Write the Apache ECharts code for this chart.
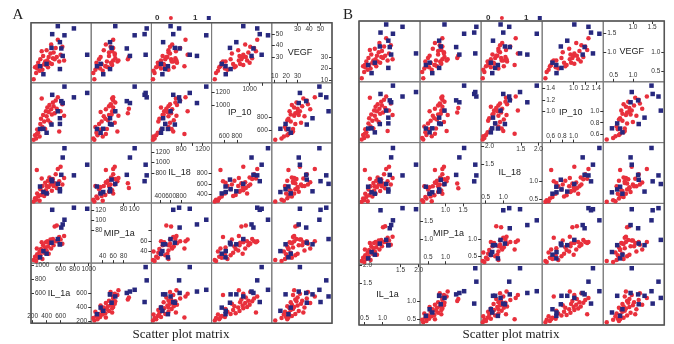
<!DOCTYPE html>
<html>
<head>
<meta charset="utf-8">
<script src="https://cdn.jsdelivr.net/npm/echarts@6/dist/echarts.min.js"></script>
<style>
    html, body { margin: 0; padding: 0; background: #fff; }
    #main { width: 674px; height: 344px; }
</style>
</head>
<body>
<div id="main"></div>
<script>
    // variables in column order (diagonal runs bottom-left -> top-right)
    const varNames = ['IL_1a', 'MIP_1a', 'IL_18', 'IP_10', 'VEGF']

    // one entry per subject, group 0 = red dots, group 1 = blue squares
    const group = [
        0,0,0,0,0,0,0,0,0,0,0,0,0,0,0,0,0,0,0,0,0,0,0,0,0,0,0,0,0,0,0,0,0,
        1,1,1,1,1,1,1,1,1,1,1,1,1
    ]
    const il1a = [
        215,235,250,265,280,300,310,320,340,350,365,380,390,400,410,420,430,440,455,465,475,490,500,515,530,545,560,580,600,625,650,260,330,
        560,790,480,655,590,470,610,980,630,306,590,354,400
    ]
    const mip1a = [
        24,30,22,35,28,40,33,45,26,52,38,48,58,42,60,50,36,56,63,46,57,64,52,88,60,90,60,68,63,55,70,46,58,
        64,124,120,101,54,57,86,122,92,29,54,41,36
    ]
    const il18 = [
        270,330,300,420,360,280,500,390,560,450,370,620,480,560,420,660,540,720,590,630,470,690,560,610,780,520,880,650,920,590,710,860,700,
        600,760,650,1270,460,680,770,960,1095,550,500,446,420
    ]
    const ip10 = [
        450,520,470,610,560,500,700,780,650,840,740,620,900,820,960,760,890,1000,720,930,850,1040,980,870,1070,940,1120,580,900,1010,830,540,1100,
        900,1120,1160,1290,790,690,1060,1190,1030,620,700,623,560
    ]
    const vegf = [
        10.5,21,16,20,25,18,28,22,19,31,24,26,23,36,27,21,30,25,33,41,24,29,34,28,38,30,45,26,32,39,27,22,35,
        57,55,50,49,43,38,37.5,32,31,22,19.5,15,24
    ]
    // panel B shows the same subjects relative to a reference level
    const refLevel = [509, 66, 650, 888, 33]

    // tick values on the diagonal panels (low part: bottom/right, high part: left/top)
    const lowTicksA = [[200,400,600],[40,60,80],[400,600,800],[600,800],[10,20,30]]
    const rightLabelsA = [[200,400,600],[40,60],[400,600,800],[600,800],[10,20,30]]
    const highTicksA = [[600,800,1000],[80,100,120],[800,1000,1200],[1000,1200],[30,40,50]]
    const topLabelsA = [[600,800,1000],[80,100,120],[800,1200],[1000],[30,40,50]]
    const lowTicksB = [[0.5,1.0],[0.5,1.0],[0.5,1.0],[0.6,0.8,1.0],[0.5,1.0]]
    const highTicksB = [[1.5,2.0],[1.0,1.5],[1.5,2.0],[1.0,1.2,1.4],[1.0,1.5]]

    const allCols = [il1a, mip1a, il18, ip10, vegf]
    const axisMin = [177, 18, 240, 400, 7.5]
    const axisMax = [1037, 133, 1370, 1350, 60]

    const panels = [
        { letter: 'A', left: 31, top: 22.7, cw: 60.2, ch: 60.1, letterX: 18, legendX: 150, titleX: 181,
          low: lowTicksA, right: rightLabelsA, high: highTicksA, topL: topLabelsA },
        { letter: 'B', left: 359, top: 21, cw: 61.06, ch: 60.8, letterX: 348, legendX: 481, titleX: 511,
          low: lowTicksB, right: lowTicksB, high: highTicksB, topL: highTicksB }
    ]
    const RED = '#e8303c'
    const BLUE = '#27287e'
    const FONT = 'Liberation Sans, Arial, sans-serif'

    function value(p, v, i) {
        return p === 0 ? allCols[v][i] : allCols[v][i] / refLevel[v]
    }
    function range(p, v) {
        const k = p === 0 ? 1 : refLevel[v]
        return [axisMin[v] / k, axisMax[v] / k]
    }

    let grids = [], xAxes = [], yAxes = [], series = [], graphics = []

    function diagAxis(gi, p, v, pos, ticks, labels, isX) {
        const [mn, mx] = range(p, v)
        return {
            gridIndex: gi, type: 'value', min: mn, max: mx, position: pos,
            axisLine: { show: false }, splitLine: { show: false },
            axisTick: { show: true, inside: true, length: 3, customValues: ticks, lineStyle: { color: '#333', width: 1 } },
            axisLabel: {
                show: true, inside: true, customValues: labels, margin: isX ? 3 : 4,
                fontSize: 6.5, color: '#333', fontFamily: FONT,
                formatter: (val) => p === 0 ? String(val) : val.toFixed(1)
            }
        }
    }

    panels.forEach((pn, p) => {
        for (let r = 0; r < 5; r++) {
            for (let c = 0; c < 5; c++) {
                const gi = grids.length
                const vx = c, vy = 4 - r
                grids.push({
                    left: pn.left + c * pn.cw, top: pn.top + r * pn.ch, width: pn.cw, height: pn.ch,
                    show: true, borderColor: '#7a7a7a', borderWidth: 1, containLabel: false, outerBoundsMode: 'none'
                })
                if (vx === vy) {
                    const v = vx
                    xAxes.push(diagAxis(gi, p, v, 'bottom', pn.low[v], pn.low[v], true))
                    xAxes.push(diagAxis(gi, p, v, 'top', pn.high[v], pn.topL[v], true))
                    yAxes.push(diagAxis(gi, p, v, 'left', pn.high[v], pn.high[v], false))
                    yAxes.push(diagAxis(gi, p, v, 'right', pn.low[v], pn.right[v], false))
                    graphics.push({
                        type: 'text', x: pn.left + (c + 0.5) * pn.cw - 2, y: pn.top + (r + 0.5) * pn.ch,
                        style: { text: varNames[v], fontSize: 9, fill: '#222', font: '9px ' + FONT, align: 'center', verticalAlign: 'middle' }
                    })
                    continue
                }
                const xi = xAxes.length, yi = yAxes.length
                const [x0, x1] = range(p, vx), [y0, y1] = range(p, vy)
                xAxes.push({ gridIndex: gi, type: 'value', min: x0, max: x1, show: false })
                yAxes.push({ gridIndex: gi, type: 'value', min: y0, max: y1, show: false })
                ;[0, 1].forEach(g => {
                    const pts = []
                    group.forEach((gr, i) => {
                        if (gr === g) pts.push([value(p, vx, i), value(p, vy, i)])
                    })
                    series.push({
                        name: String(g), type: 'scatter', xAxisIndex: xi, yAxisIndex: yi,
                        symbol: g ? 'rect' : 'circle', symbolSize: 4.5,
                        itemStyle: { color: g ? BLUE : RED, opacity: 1 },
                        data: pts, silent: true, clip: false
                    })
                })
            }
        }
        // outer frame of the matrix
        graphics.push({
            type: 'rect', shape: { x: pn.left, y: pn.top, width: pn.cw * 5, height: pn.ch * 5 },
            style: { fill: 'none', stroke: '#555', lineWidth: 1.5 }, z: 10
        })
        graphics.push({
            type: 'text', x: pn.letterX, y: 15,
            style: { text: pn.letter, font: '15px Liberation Serif, Times New Roman, serif', fill: '#222', align: 'center', verticalAlign: 'middle' }
        })
        graphics.push({
            type: 'text', x: pn.titleX, y: 335,
            style: { text: 'Scatter plot matrix', font: '13px Liberation Serif, Times New Roman, serif', fill: '#222', align: 'center', verticalAlign: 'middle' }
        })
    })

    const legends = panels.map(pn => ({
        left: pn.legendX, top: 9, align: 'right', itemWidth: 4, itemHeight: 4, itemGap: 20,
        selectedMode: false, formatter: (name) => name + '  ',
        textStyle: { fontSize: 8, fontWeight: 'bold', color: '#333', fontFamily: FONT },
        data: [{ name: '0', icon: 'circle' }, { name: '1', icon: 'rect' }]
    }))

    const chartInstance = echarts.init(document.getElementById('main'), null, { renderer: 'canvas' })
    chartInstance.setOption({
        animation: false,
        backgroundColor: '#fff',
        legend: legends,
        grid: grids,
        xAxis: xAxes,
        yAxis: yAxes,
        series: series,
        graphic: graphics
    })
</script>
</body>
</html>
